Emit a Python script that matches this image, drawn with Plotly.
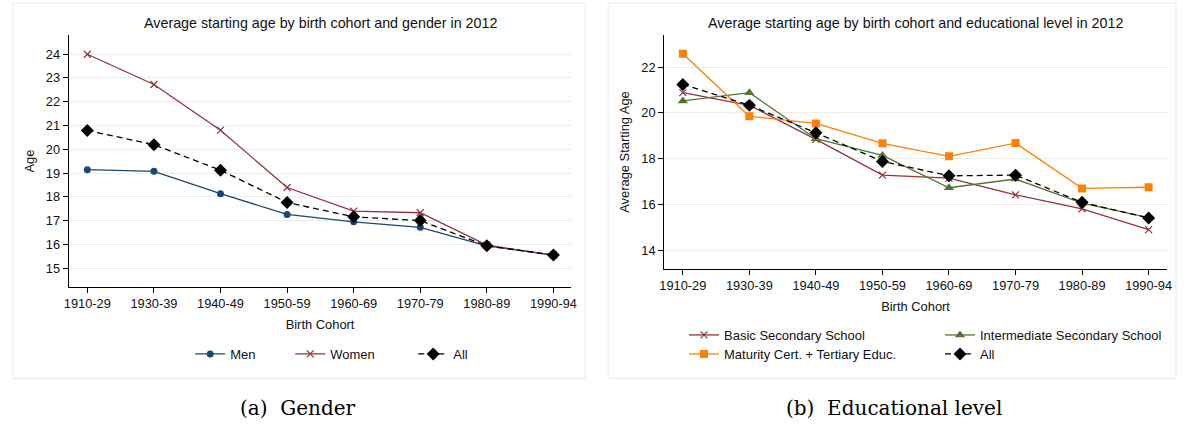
import plotly.graph_objects as go

cohorts = ["1910-29", "1930-39", "1940-49", "1950-59", "1960-69", "1970-79", "1980-89", "1990-94"]

# Panel (a): gender
men = [19.14, 19.07, 18.13, 17.26, 16.95, 16.72, 15.94, 15.55]
women = [23.99, 22.72, 20.80, 18.39, 17.40, 17.33, 15.97, 15.55]
all_gender = [20.79, 20.19, 19.12, 17.76, 17.16, 17.00, 15.94, 15.55]

# Panel (b): educational level
basic = [20.88, 20.33, 18.84, 17.28, 17.15, 16.42, 15.81, 14.90]
intermediate = [20.52, 20.88, 18.87, 18.14, 16.73, 17.11, 16.06, 15.42]
maturity = [22.58, 19.85, 19.54, 18.67, 18.10, 18.68, 16.70, 16.75]
all_edu = [21.24, 20.33, 19.13, 17.88, 17.25, 17.28, 16.09, 15.41]

left_ticks = [15, 16, 17, 18, 19, 20, 21, 22, 23, 24]
right_ticks = [14, 16, 18, 20, 22]

W, H = 1196, 424
NAVY = "#1a476f"
MAROON = "#90353b"
GREEN = "#55752f"
ORANGE = "#ff8000"
FONT = "Liberation Sans, Arial, sans-serif"


def px_x(v):
    return v / W


def px_y(v):
    return 1 - v / H


fig = go.Figure()

lw = 1.3
# Left panel traces
fig.add_trace(go.Scatter(x=cohorts, y=men, name="Men", mode="lines+markers",
                         line=dict(color=NAVY, width=lw),
                         marker=dict(symbol="circle", size=7, color=NAVY),
                         xaxis="x", yaxis="y", legend="legend", legendwidth=55))
fig.add_trace(go.Scatter(x=cohorts, y=women, name="Women", mode="lines+markers",
                         line=dict(color=MAROON, width=lw),
                         marker=dict(symbol="x-thin", size=7, color=MAROON,
                                     line=dict(color=MAROON, width=1.2)),
                         xaxis="x", yaxis="y", legend="legend", legendwidth=78))
fig.add_trace(go.Scatter(x=cohorts, y=all_gender, name="All", mode="lines+markers",
                         line=dict(color="black", width=lw, dash="6px,4px"),
                         marker=dict(symbol="diamond", size=10, color="black"),
                         xaxis="x", yaxis="y", legend="legend"))

# Right panel traces
fig.add_trace(go.Scatter(x=cohorts, y=basic, name="Basic Secondary School", mode="lines+markers",
                         line=dict(color=MAROON, width=lw),
                         marker=dict(symbol="x-thin", size=7, color=MAROON,
                                     line=dict(color=MAROON, width=1.2)),
                         xaxis="x2", yaxis="y2", legend="legend2"))
fig.add_trace(go.Scatter(x=cohorts, y=intermediate, name="Intermediate Secondary School",
                         mode="lines+markers",
                         line=dict(color=GREEN, width=lw),
                         marker=dict(symbol="triangle-up", size=9, color=GREEN),
                         xaxis="x2", yaxis="y2", legend="legend2"))
fig.add_trace(go.Scatter(x=cohorts, y=maturity, name="Maturity Cert. + Tertiary Educ.",
                         mode="lines+markers",
                         line=dict(color=ORANGE, width=lw),
                         marker=dict(symbol="square", size=8, color=ORANGE),
                         xaxis="x2", yaxis="y2", legend="legend3"))
fig.add_trace(go.Scatter(x=cohorts, y=all_edu, name="All", mode="lines+markers",
                         line=dict(color="black", width=lw, dash="6px,4px"),
                         marker=dict(symbol="diamond", size=10, color="black"),
                         xaxis="x2", yaxis="y2", legend="legend3"))

tickfont = dict(family=FONT, size=12.8, color="#111")
axis_common = dict(showline=True, linecolor="black", linewidth=1.2,
                   ticks="outside", ticklen=5, tickcolor="black", tickwidth=1,
                   tickfont=tickfont, zeroline=False)
title_font = dict(family=FONT, size=12.9, color="#111")

fig.update_layout(
    width=W, height=H,
    margin=dict(l=0, r=0, t=0, b=0),
    paper_bgcolor="white", plot_bgcolor="white",
    font=dict(family=FONT, size=13, color="#111"),
    xaxis=dict(domain=[px_x(65), px_x(578)], anchor="y", type="category",
               range=[-0.28, 7.27], showgrid=False,
               title=dict(text="Birth Cohort", font=title_font, standoff=9),
               **axis_common),
    yaxis=dict(domain=[px_y(287), px_y(35)], anchor="x", range=[14.21, 24.8],
               tickvals=left_ticks, showgrid=True, gridcolor="#ececec", gridwidth=1,
               title=dict(text="Age", font=title_font, standoff=8),
               **axis_common),
    xaxis2=dict(domain=[px_x(672.7), px_x(1185.7)], anchor="y2", type="category",
                range=[-0.28, 7.275], showgrid=False,
                title=dict(text="Birth Cohort", font=title_font, standoff=9),
                **axis_common),
    yaxis2=dict(domain=[px_y(269), px_y(35)], anchor="x2", range=[13.18, 23.4],
                tickvals=right_ticks, showgrid=True, gridcolor="#ececec", gridwidth=1,
                title=dict(text="Average Starting Age", font=title_font, standoff=8),
                **axis_common),
    legend=dict(orientation="h", x=px_x(189), xanchor="left", y=px_y(354), yanchor="middle",
                font=dict(family=FONT, size=13), bgcolor="rgba(0,0,0,0)"),
    legend2=dict(orientation="h", x=px_x(693), xanchor="left", y=px_y(335), yanchor="middle",
                 font=dict(family=FONT, size=13), entrywidth=211, bgcolor="rgba(0,0,0,0)"),
    legend3=dict(orientation="h", x=px_x(693), xanchor="left", y=px_y(354), yanchor="middle",
                 font=dict(family=FONT, size=13), entrywidth=211, bgcolor="rgba(0,0,0,0)"),
    showlegend=True,
)

# panel borders
for x0, x1 in [(8, 592), (615.5, 1195)]:
    fig.add_shape(type="rect", xref="paper", yref="paper",
                  x0=px_x(x0), x1=px_x(x1), y0=px_y(378.5), y1=px_y(3),
                  line=dict(color="#e4ecee", width=1), fillcolor="rgba(0,0,0,0)", layer="below")

# chart titles
fig.add_annotation(text="Average starting age by birth cohort and gender in 2012",
                   xref="paper", yref="paper", x=px_x(321.5), y=px_y(23),
                   showarrow=False, xanchor="center", yanchor="middle",
                   font=dict(family=FONT, size=14.3, color="#111"))
fig.add_annotation(text="Average starting age by birth cohort and educational level in 2012",
                   xref="paper", yref="paper", x=px_x(929), y=px_y(23),
                   showarrow=False, xanchor="center", yanchor="middle",
                   font=dict(family=FONT, size=14.3, color="#111"))

# captions
cap_font = dict(family="DejaVu Serif, Liberation Serif, serif", size=20, color="black")
fig.add_annotation(text="(a)  Gender", xref="paper", yref="paper", x=px_x(299), y=px_y(408),
                   showarrow=False, xanchor="center", yanchor="middle", font=cap_font)
fig.add_annotation(text="(b)  Educational level", xref="paper", yref="paper", x=px_x(907),
                   y=px_y(408), showarrow=False, xanchor="center", yanchor="middle", font=cap_font)

fig.write_html("out.html", config={"displayModeBar": False},
               post_script="document.body.style.margin='0';document.body.style.overflow='hidden';")
